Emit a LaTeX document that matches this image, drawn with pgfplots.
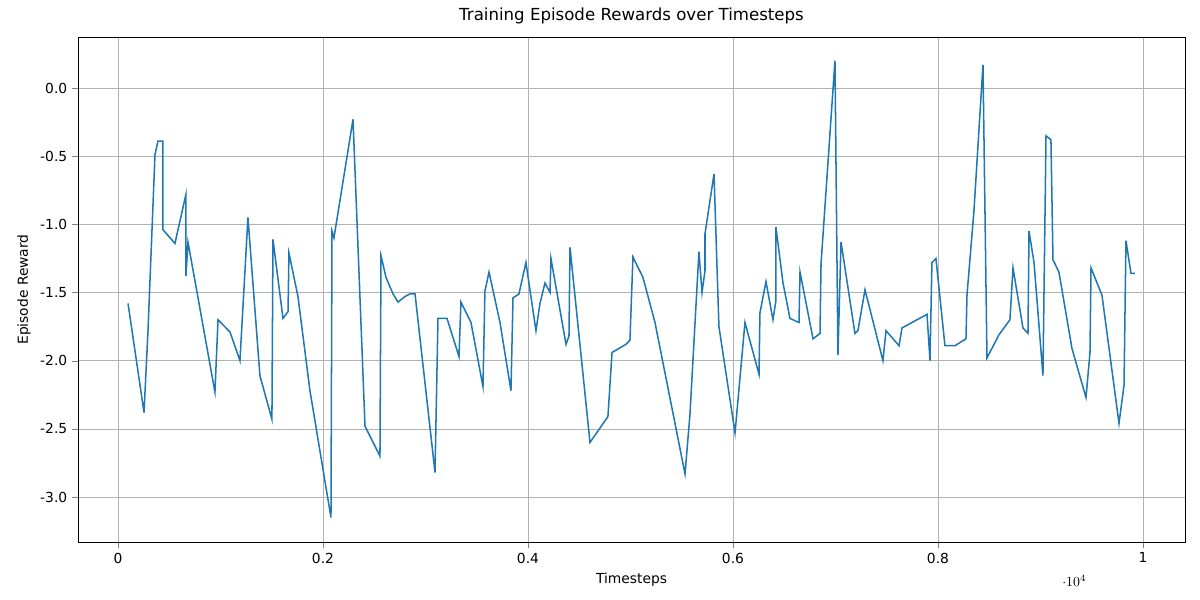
\documentclass[border=0pt]{standalone}
\usepackage{pgfplots}
\pgfplotsset{compat=1.18}
\usepackage{fontspec}
\setmainfont{DejaVu Sans}
\begin{document}
\begin{tikzpicture}
\useasboundingbox (-0.78in,-0.58in) rectangle (11.22in,5.42in);
\begin{axis}[
  at={(0,0)}, anchor=south west,
  scale only axis, width=11.07in, height=5.05in,
  xmin=-390, xmax=10410, ymin=-3.33, ymax=0.374,
  xtick={0,2000,4000,6000,8000,10000},
  ytick={-3,-2.5,-2,-1.5,-1,-0.5,0},
  xticklabel style={/pgf/number format/fixed,/pgf/number format/1000 sep={}},
  yticklabel style={/pgf/number format/fixed,/pgf/number format/fixed zerofill,/pgf/number format/precision=1},
  /pgf/number format/assume math mode=true,
  grid=major, major grid style={gray!60},
  tick align=outside, tick pos=left,
  xlabel={Timesteps}, ylabel={Episode Reward},
  title={Training Episode Rewards over Timesteps},
  title style={font=\fontsize{12}{14}\selectfont},
  tick label style={font=\fontsize{10}{12}\selectfont},
  label style={font=\fontsize{10}{12}\selectfont},
]
\addplot[color={rgb,255:red,31;green,119;blue,180}, line width=1.1pt] coordinates {
(98,-1.58)(254,-2.38)(293,-1.78)(361,-0.49)(390,-0.39)(439,-0.39)(439,-1.04)(556,-1.14)(663,-0.78)(663,-1.38)(683,-1.13)
(946,-2.23)(976,-1.70)(1093,-1.79)(1190,-2.00)(1268,-0.95)(1385,-2.11)(1502,-2.43)(1512,-1.11)(1610,-1.69)(1659,-1.64)(1668,-1.21)
(1756,-1.53)(1873,-2.22)(2078,-3.15)(2088,-1.05)(2107,-1.10)(2293,-0.23)(2410,-2.48)(2556,-2.70)(2566,-1.23)(2615,-1.39)(2683,-1.51)
(2732,-1.57)(2800,-1.53)(2849,-1.51)(2898,-1.51)(3093,-2.82)(3122,-1.69)(3210,-1.69)(3327,-1.97)(3346,-1.57)(3444,-1.72)(3561,-2.19)
(3580,-1.49)(3620,-1.35)(3727,-1.72)(3834,-2.22)(3854,-1.54)(3912,-1.51)(3980,-1.28)(4019,-1.48)(4078,-1.78)(4117,-1.58)(4166,-1.43)
(4215,-1.50)(4224,-1.25)(4371,-1.88)(4400,-1.82)(4410,-1.17)(4605,-2.60)(4780,-2.41)(4820,-1.94)(4956,-1.88)(4995,-1.85)(5024,-1.24)
(5122,-1.39)(5239,-1.72)(5532,-2.83)(5580,-2.40)(5668,-1.20)(5698,-1.50)(5727,-1.34)(5727,-1.07)(5815,-0.63)(5863,-1.75)(6020,-2.53)
(6117,-1.72)(6254,-2.10)(6263,-1.65)(6322,-1.42)(6390,-1.70)(6419,-1.56)(6419,-1.02)(6488,-1.43)(6556,-1.69)(6644,-1.72)(6654,-1.35)
(6781,-1.84)(6849,-1.80)(6859,-1.29)(6995,0.20)(7024,-1.96)(7054,-1.13)(7190,-1.80)(7219,-1.78)(7288,-1.48)(7463,-2.00)(7493,-1.78)
(7620,-1.89)(7649,-1.76)(7893,-1.66)(7922,-2.00)(7941,-1.28)(7980,-1.25)(8068,-1.89)(8166,-1.89)(8273,-1.84)(8283,-1.52)(8351,-0.90)
(8439,0.17)(8478,-1.98)(8595,-1.81)(8702,-1.70)(8732,-1.32)(8829,-1.76)(8878,-1.80)(8888,-1.05)(8937,-1.28)(9024,-2.11)(9054,-0.35)
(9102,-0.38)(9122,-1.26)(9180,-1.35)(9307,-1.91)(9444,-2.27)(9483,-1.94)(9493,-1.32)(9600,-1.52)(9766,-2.46)(9815,-2.18)(9834,-1.12)
(9883,-1.36)(9922,-1.36)
};
\end{axis}
\end{tikzpicture}
\end{document}
